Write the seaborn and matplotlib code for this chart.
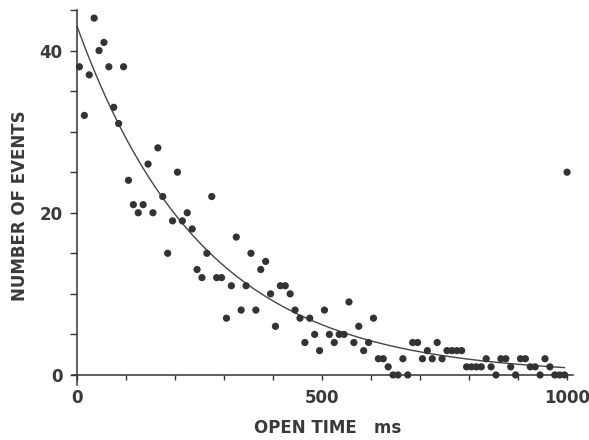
import numpy as np
import pandas as pd
import matplotlib
matplotlib.use("Agg")
import matplotlib.pyplot as plt
import seaborn as sns
from matplotlib.ticker import FixedLocator

# ---- data ----
# histogram bin centres (10 ms bins) and event counts
open_time_ms = list(range(5, 1000, 10))
counts = [
    38, 32, 37, 44, 40, 41, 38, 33, 31, 38,   # 0-100 ms
    24, 21, 20, 21, 26, 20, 28, 22, 15, 19,   # 100-200
    25, 19, 20, 18, 13, 12, 15, 22, 12, 12,   # 200-300
    7, 11, 17, 8, 11, 15, 8, 13, 14, 10,      # 300-400
    6, 11, 11, 10, 8, 7, 4, 7, 5, 3,          # 400-500
    8, 5, 4, 5, 5, 9, 4, 6, 3, 4,             # 500-600
    7, 2, 2, 1, 0, 0, 2, 0, 4, 4,             # 600-700
    2, 3, 2, 4, 2, 3, 3, 3, 3, 1,             # 700-800
    1, 1, 1, 2, 1, 0, 2, 2, 1, 0,             # 800-900
    2, 2, 1, 1, 0, 2, 1, 0, 0, 0,             # 900-1000
]
# events longer than the last bin
overflow_time_ms = [1000]
overflow_count = [25]

# single-exponential fit drawn through the histogram
fit_amplitude = 43.0
fit_tau_ms = 258.0
fit_end_ms = 995

x_major = [0, 500, 1000]
x_major_labels = ["0", "500", "1000"]
x_minor = [100, 200, 300, 400, 600, 700, 800, 900]
y_major = [0, 20, 40]
y_major_labels = ["0", "20", "40"]
y_minor = [5, 10, 15, 25, 30, 35, 45]

x_label = "OPEN TIME   ms"
y_label = "NUMBER OF EVENTS"

# ---- drawing ----
sns.set_theme(style="white")
plt.rcParams["font.family"] = ["DejaVu Sans"]

ink = "#333333"
text_col = "#3a3a3a"

fig = plt.figure(figsize=(5.89, 4.40), dpi=100)
ax = fig.add_axes([0.1224, 0.1257, 0.8503, 0.8516])

df = pd.DataFrame({
    "time": open_time_ms + overflow_time_ms,
    "events": counts + overflow_count,
})
sns.scatterplot(data=df, x="time", y="events", s=27, color=ink,
                edgecolor="none", linewidth=0, ax=ax, zorder=3)

fit_t = np.linspace(0, fit_end_ms, 300)
fit_n = fit_amplitude * np.exp(-fit_t / fit_tau_ms)
sns.lineplot(x=fit_t, y=fit_n, color="#454545", linewidth=1.0, ax=ax, zorder=2)

ax.set_xlim(-10, 1012)
ax.set_ylim(-1.2, 45)

for side in ("top", "right"):
    ax.spines[side].set_visible(False)
for side in ("left", "bottom"):
    ax.spines[side].set_visible(True)
    ax.spines[side].set_color(ink)
    ax.spines[side].set_linewidth(1.1)
    ax.spines[side].set_position(("data", 0))

ax.xaxis.set_major_locator(FixedLocator(x_major))
ax.set_xticklabels(x_major_labels)
ax.xaxis.set_minor_locator(FixedLocator(x_minor))
ax.yaxis.set_major_locator(FixedLocator(y_major))
ax.set_yticklabels(y_major_labels)
ax.yaxis.set_minor_locator(FixedLocator(y_minor))

ax.tick_params(axis="x", which="both", bottom=True, direction="out",
               length=3.8, width=1.0, color=ink)
ax.tick_params(axis="x", which="major", pad=6.5, labelsize=12,
               labelcolor=text_col)
ax.tick_params(axis="y", which="both", left=True, direction="out",
               length=5, width=1.0, color=ink)
ax.tick_params(axis="y", which="major", pad=5.5, labelsize=12,
               labelcolor=text_col)
for lab in ax.get_xticklabels() + ax.get_yticklabels():
    lab.set_fontweight("bold")

ax.set_xlabel(x_label, fontsize=12, fontweight="bold", color=text_col)
ax.set_ylabel(y_label, fontsize=12, fontweight="bold", color=text_col)
ax.xaxis.set_label_coords(0.511, -0.0915)
ax.yaxis.set_label_coords(-0.086, 0.477)

ax.grid(False)
ax.set_facecolor("white")
fig.patch.set_facecolor("white")

fig.savefig("out.png", dpi=100, facecolor="white")
